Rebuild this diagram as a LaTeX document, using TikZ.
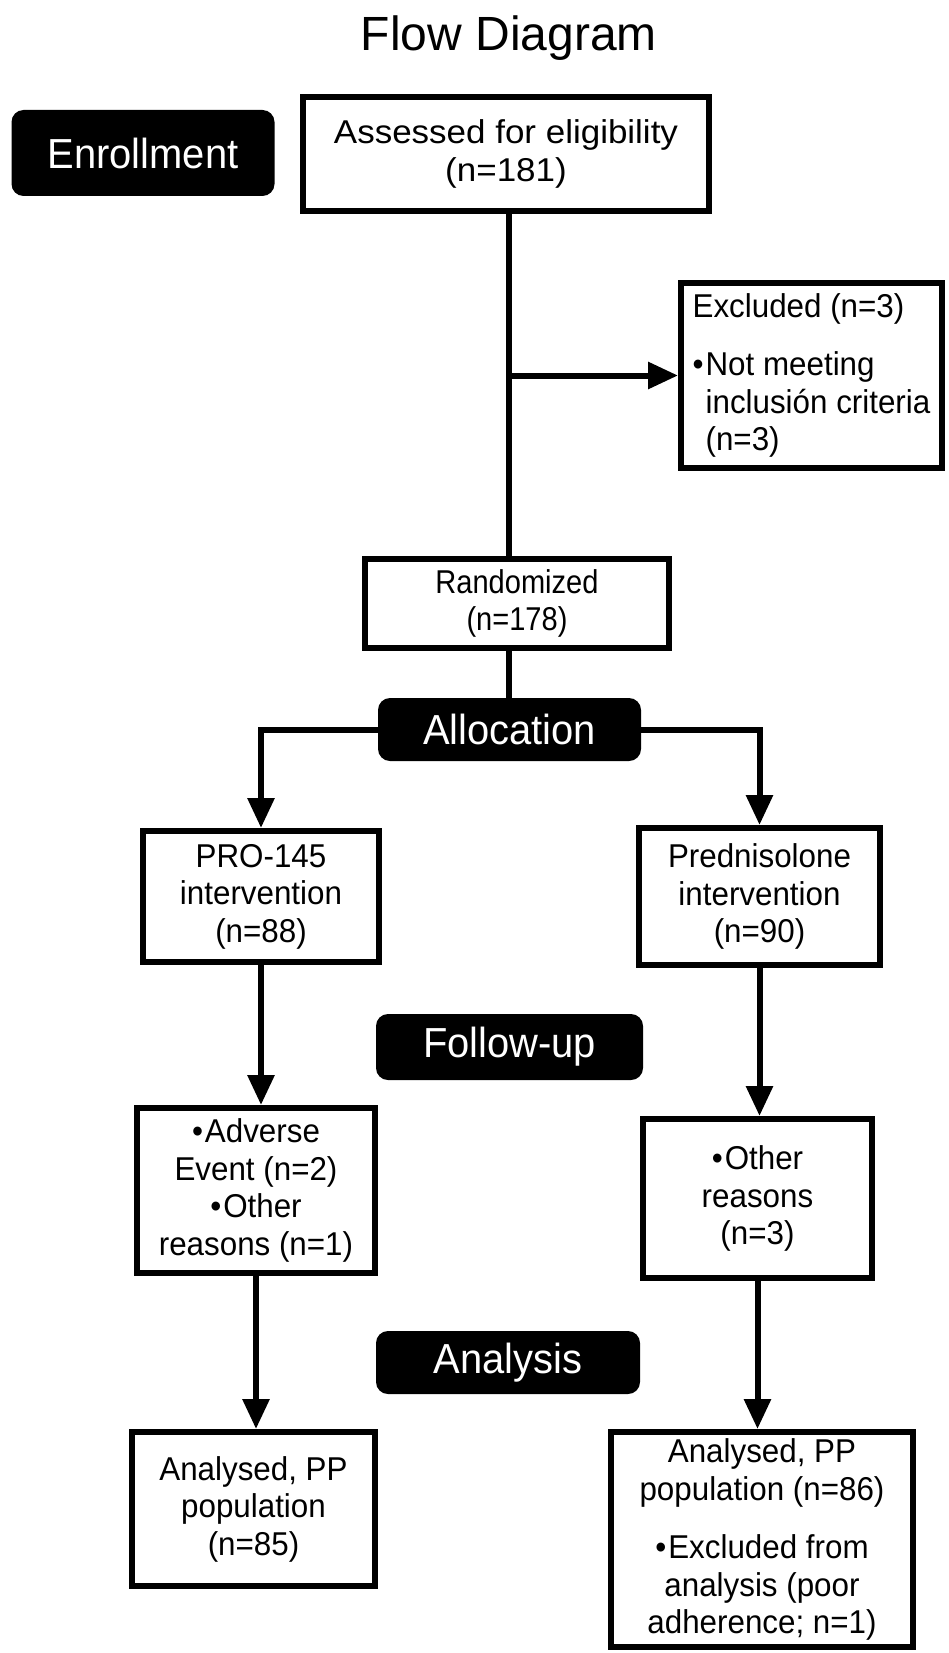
\documentclass[tikz,border=0pt]{standalone}
\usepackage{fontspec}
\setmainfont[FakeStretch=0.95]{Liberation Sans}
\newfontfamily\assessfam[FakeStretch=1.06]{Liberation Sans}
\newfontfamily\randfam[FakeStretch=0.88]{Liberation Sans}
\newfontfamily\titlefam{Liberation Sans}
\usetikzlibrary{arrows.meta}
\newcommand\bodyfnt{\fontsize{33}{37.5}\selectfont}
\newcommand\labfnt{\fontsize{42}{48}\selectfont}
\newcommand\titlefnt{\titlefam\fontsize{48}{56}\selectfont}
\tikzset{
  whitebox/.style={draw=black, line width=6pt, fill=white, align=center, inner sep=0pt, font=\bodyfnt},
  blacklab/.style={fill=black, rounded corners=12pt, text=white, font=\labfnt, inner sep=0pt},
  conn/.style={line width=6pt, draw=black},
  arrowconn/.style={line width=6pt, draw=black, -{Triangle[length=30pt,width=26pt]}}
}
\begin{document}
\begin{tikzpicture}[x=1pt,y=-1pt]
\useasboundingbox[fill=white] (0,0) rectangle (948,1653);
\node[font=\titlefnt, anchor=base] (title) at (509,51) {Flow Diagram};

\node[blacklab, minimum width=263pt, minimum height=86pt] (enroll) at (143,153) {Enrollment};
\node[whitebox, font=\assessfam\bodyfnt, minimum width=406pt, minimum height=114pt] (assess) at (506,154) {Assessed for eligibility\\(n=181)};
\node[whitebox, align=left, minimum width=261pt, minimum height=185pt] (excl) at (811.5,375.5)
  {Excluded (n=3)\\[21pt] •\kern2pt Not meeting\\ \hphantom{•\kern2pt}inclusión criteria\\ \hphantom{•\kern2pt}(n=3)};
\node[whitebox, font=\randfam\bodyfnt, minimum width=304pt, minimum height=89pt] (rand) at (517,603.5) {Randomized\\(n=178)};
\node[blacklab, minimum width=263pt, minimum height=63pt] (alloc) at (509.5,729.5) {Allocation};
\node[whitebox, minimum width=236pt, minimum height=131pt] (pro) at (261,896.5) {PRO-145\\intervention\\(n=88)};
\node[whitebox, minimum width=241pt, minimum height=137pt] (pred) at (759.5,896.5) {Prednisolone\\intervention\\(n=90)};
\node[blacklab, minimum width=267pt, minimum height=66pt] (follow) at (509.5,1047) {Follow-up};
\node[whitebox, minimum width=238pt, minimum height=165pt] (adv) at (256,1190.5) {•\kern2pt Adverse\\Event (n=2)\\•\kern2pt Other\\reasons (n=1)};
\node[whitebox, minimum width=229pt, minimum height=159pt] (oth) at (757.5,1198.5) {•\kern2pt Other\\reasons\\(n=3)};
\node[blacklab, minimum width=264pt, minimum height=63pt] (analysis) at (508,1362.5) {Analysis};
\node[whitebox, minimum width=243pt, minimum height=154pt] (anL) at (253.5,1509) {Analysed, PP\\population\\(n=85)};
\node[whitebox, minimum width=302pt, minimum height=215pt] (anR) at (762,1539.5) {Analysed, PP\\population (n=86)\\[21pt]•\kern2pt Excluded from\\analysis (poor\\adherence; n=1)};

\coordinate (mx) at (509,0);
\draw[conn] (assess.south -| mx) -- (rand.north -| mx);
\draw[arrowconn] (mx |- excl.west) -- (excl.west);
\draw[conn] (rand.south -| mx) -- (alloc.north -| mx);
\draw[arrowconn] (alloc.west) -| (pro.north);
\draw[arrowconn] (alloc.east) -| (pred.north);
\draw[arrowconn] (pro.south) -- (pro.south |- adv.north);
\draw[arrowconn] (pred.south) -- (pred.south |- oth.north);
\draw[arrowconn] (adv.south) -- (adv.south |- anL.north);
\draw[arrowconn] (oth.south) -- (oth.south |- anR.north);
\end{tikzpicture}
\end{document}
